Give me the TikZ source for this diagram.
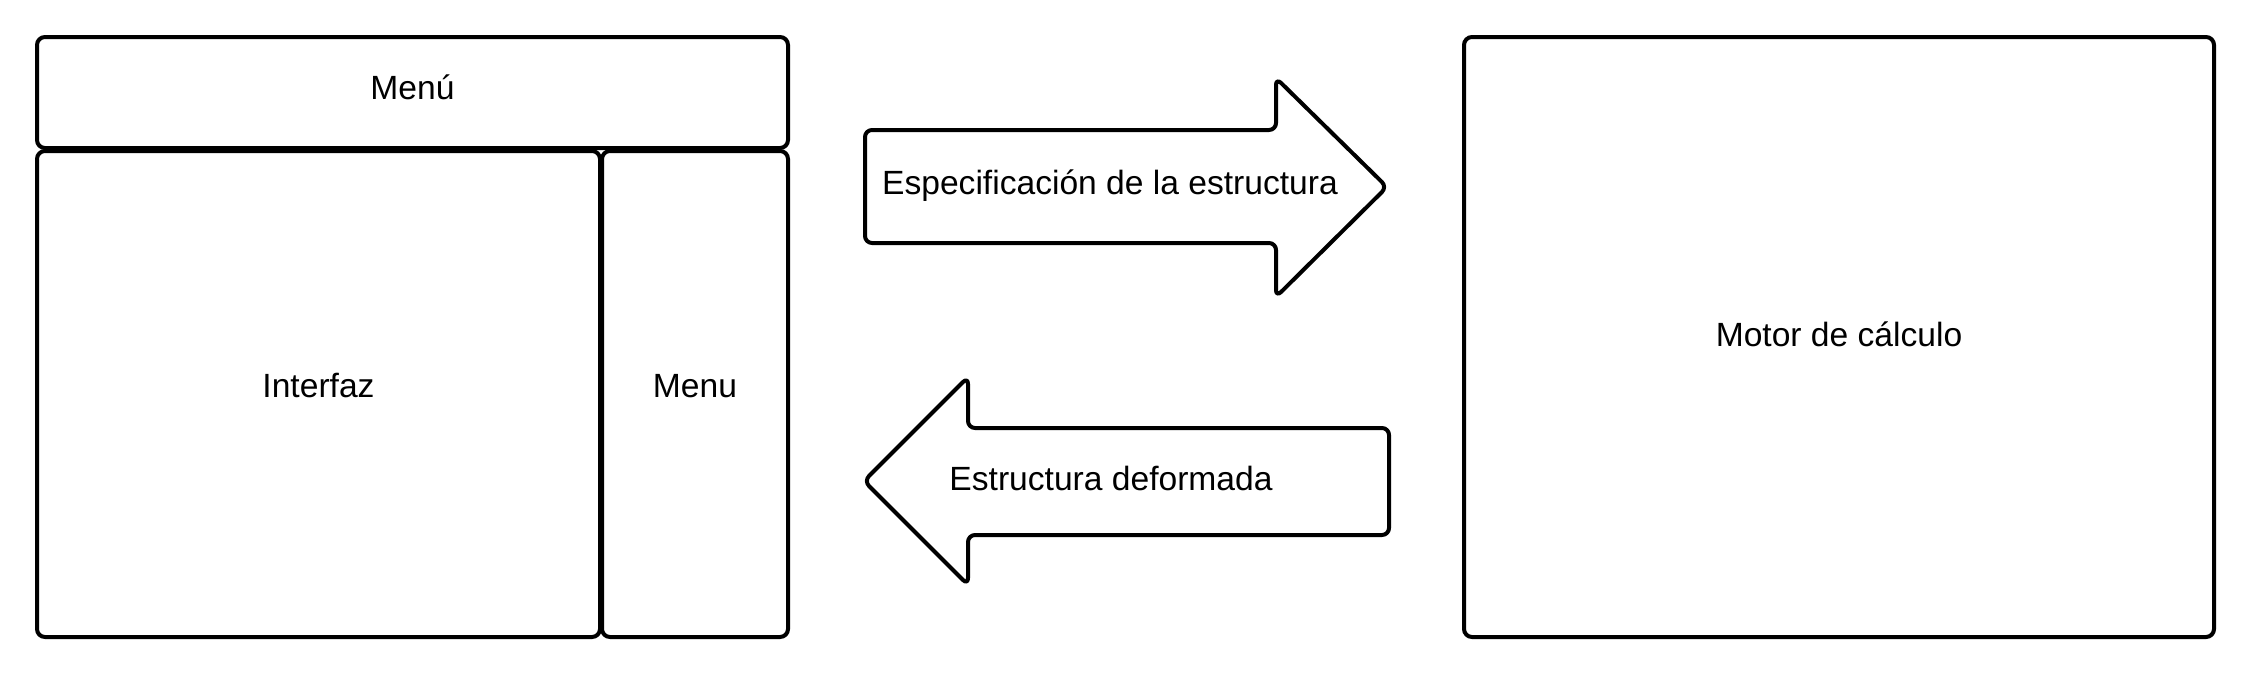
\documentclass[tikz,border=0pt]{standalone}
\usepackage{fontspec}
\setmainfont{Liberation Sans}
\begin{document}
\begin{tikzpicture}[x=0.5pt,y=-0.5pt,
  panel/.style={draw=black,line width=2pt,rounded corners=4pt,inner sep=0pt},
  blockarrow/.style={draw=black,line width=2pt,rounded corners=3.5pt,line join=round},
  lbl/.style={inner sep=0pt,anchor=base,font=\fontsize{16.8pt}{20pt}\selectfont}]
\useasboundingbox (0,0) rectangle (2264,680);
% left panel
\node[panel,minimum width=375.5pt,minimum height=55.5pt] (menutop) at (412.5,92.5) {};
\node[panel,minimum width=281.5pt,minimum height=243pt] (interfaz) at (318.5,394) {};
\node[panel,minimum width=93pt,minimum height=243pt] (menuside) at (695,394) {};
\node[lbl] (menutoplbl) at (412.5,99) {Menú};
\node[lbl] (interfazlbl) at (318.5,397) {Interfaz};
\node[lbl] (menusidelbl) at (695,397) {Menu};
% right panel
\node[panel,minimum width=375pt,minimum height=300pt] (motor) at (1839,337) {};
\node[lbl] (motorlbl) at (1839,346) {Motor de cálculo};
% block arrows
\draw[blockarrow] (865,130) -- (1276,130) -- (1276,78) -- (1387,187) -- (1276,297)
  -- (1276,243) -- (865,243) -- cycle;
\node[lbl] (espec) at (1110,194) {Especificación de la estructura};
\draw[blockarrow] (864,481) -- (968,377) -- (968,428) -- (1389,428) -- (1389,535)
  -- (968,535) -- (968,585) -- cycle;
\node[lbl] (deform) at (1111,490) {Estructura deformada};
\end{tikzpicture}
\end{document}
